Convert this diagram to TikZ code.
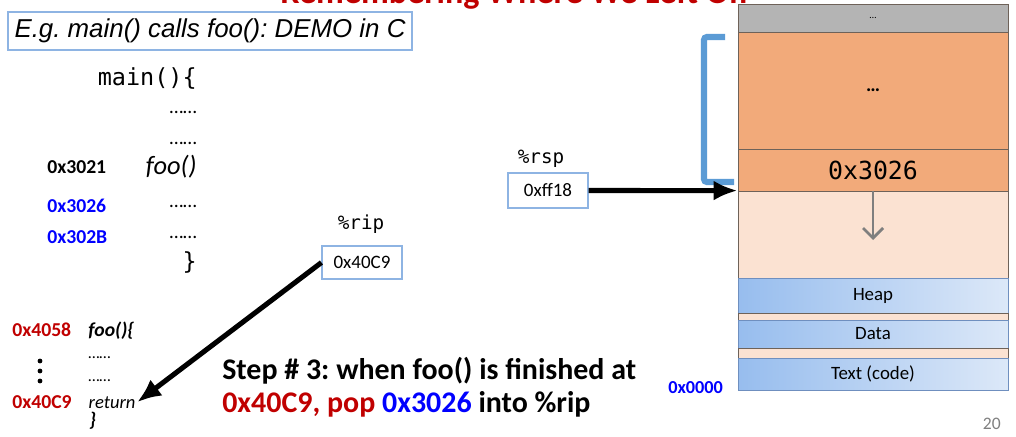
\documentclass[tikz,border=0pt]{standalone}
\usepackage{fontspec}
\setmainfont{Carlito}
\setmonofont{DejaVu Sans Mono}
\newfontfamily\arialfont{Liberation Sans}
\usetikzlibrary{arrows.meta}
\frenchspacing
\definecolor{darkred}{HTML}{C00000}
\definecolor{addrblue}{HTML}{0000FF}
\definecolor{boxblue}{HTML}{8EB4E3}
\definecolor{bracketblue}{HTML}{5B9BD5}
\definecolor{topgray}{HTML}{B4B4B4}
\definecolor{frameorange}{HTML}{F2AA7A}
\definecolor{freepeach}{HTML}{FBE2D2}
\definecolor{cellline}{HTML}{6E6259}
\definecolor{segline}{HTML}{6F8FBF}
\definecolor{segdark}{HTML}{97BDEE}
\definecolor{seglight}{HTML}{DCE8F8}
\definecolor{pagegray}{HTML}{7F7F7F}

\begin{document}
\begin{tikzpicture}[x=0.25mm, y=-0.25mm]

\tikzstyle{hexaddr}=[anchor=base west, inner sep=0pt, font=\fontsize{14}{16}\selectfont\bfseries]
\tikzstyle{fillerdots}=[anchor=base east, inner sep=0pt, font=\fontsize{14}{16}\selectfont]
\tikzstyle{regname}=[anchor=base, inner sep=0pt, font=\fontsize{13.7}{16}\selectfont\ttfamily]
\tikzstyle{regbox}=[draw=boxblue, line width=0.8pt, minimum width=20mm, inner sep=0pt, font=\fontsize{13.5}{16}\selectfont]
\tikzstyle{stackcell}=[draw=cellline, line width=0.6pt, minimum width=67.5mm, inner sep=0pt]
\tikzstyle{segcell}=[stackcell, draw=segline, left color=segdark, right color=seglight, font=\fontsize{13.4}{16}\selectfont]
\tikzstyle{connect}=[arrows={-{Latex[length=6mm, width=5mm]}}, line width=3.6pt]
\tikzstyle{growarrow}=[arrows={-{Straight Barb[length=2.5mm, width=5mm]}}, line width=2pt, draw=pagegray]

\useasboundingbox (0,0) rectangle (1016,436);

% slide heading, cut off at the top
\node[anchor=base west, inner sep=0pt, text=darkred, font=\fontsize{24.3}{28}\selectfont\bfseries] (heading) at (280,3) {Remembering Where We Left Off};

\node[draw=boxblue, line width=0.8pt, minimum width=101mm, minimum height=9.5mm, inner sep=0pt, font=\fontsize{18.4}{22}\selectfont\arialfont\itshape] (demo) at (210,31) {E.g. main() calls foo(): DEMO in C};

% main
\node[anchor=base east, inner sep=0pt, font=\fontsize{16.7}{20}\selectfont\ttfamily] (mainhead) at (197,85) {main()\{};
\node[fillerdots] (mdots1) at (197,113) {……};
\node[fillerdots] (mdots2) at (197,144) {……};
\node[anchor=base east, inner sep=0pt, font=\fontsize{18.8}{22}\selectfont\itshape] (call) at (197,174) {foo()};
\node[fillerdots] (mdots3) at (197,207) {……};
\node[fillerdots] (mdots4) at (197,238) {……};
\node[anchor=base east, inner sep=0pt, font=\fontsize{16.7}{20}\selectfont\ttfamily] (mainend) at (197,269) {\}};

\node[hexaddr] (a3021) at (47,173) {0x3021};
\node[hexaddr, text=addrblue] (a3026) at (47,212) {0x3026};
\node[hexaddr, text=addrblue] (a302b) at (47,243) {0x302B};

% foo
\node[hexaddr, text=darkred] (a4058) at (12,336) {0x4058};
\node[hexaddr, font=\fontsize{14}{16}\selectfont\bfseries\itshape] (foohead) at (88,336) {foo()\{};
\node[fillerdots, anchor=base west, font=\fontsize{11.5}{14}\selectfont] (fdots1) at (88,358) {……};
\node[fillerdots, anchor=base west, font=\fontsize{11.5}{14}\selectfont] (fdots2) at (88,381) {……};
\fill (40,361) circle (0.6mm);
\fill (40,371) circle (0.6mm);
\fill (40,381) circle (0.6mm);
\node[hexaddr, text=darkred] (a40c9) at (12,408) {0x40C9};
\node[anchor=base west, inner sep=1pt, font=\fontsize{13.2}{16}\selectfont\itshape] (rtn) at (87,408) {return};
\node[anchor=base west, inner sep=0pt, font=\fontsize{14}{16}\selectfont\bfseries\itshape] (fooend) at (89,426) {\}};

% registers
\node[regname] (ripname) at (361,229) {\%rip};
\node[regbox, minimum height=8.25mm] (ripbox) at (362,262.5) {0x40C9};
\node[regname] (rspname) at (541,163) {\%rsp};
\node[regbox, minimum height=8.75mm] (rspbox) at (548,190.5) {0xff18};

% stack
\node[stackcell, fill=topgray, minimum height=7mm, font=\fontsize{7}{8}\selectfont] (top) at (873,18) {…};
\node[stackcell, fill=frameorange, minimum height=29.25mm, font=\fontsize{14}{16}\selectfont\bfseries] (frame) at (873,90.5) {…};
\node[stackcell, fill=frameorange, minimum height=10.5mm, font=\fontsize{17.7}{20}\selectfont\ttfamily] (retaddr) at (873,170) {0x3026};
\node[stackcell, fill=freepeach, minimum height=21.75mm] (free) at (873,234.5) {};
\node[segcell, minimum height=8.75mm] (heap) at (873,295.5) {Heap};
\node[stackcell, fill=freepeach, minimum height=1.75mm] (gapa) at (873,316.5) {};
\node[segcell, minimum height=7mm] (data) at (873,334) {Data};
\node[stackcell, fill=freepeach, minimum height=2.5mm] (gapb) at (873,353) {};
\node[segcell, minimum height=8mm] (code) at (873,374) {Text (code)};

\node[hexaddr, text=addrblue, font=\fontsize{13}{16}\selectfont\bfseries] (a0000) at (668,393) {0x0000};

\coordinate (growend) at (873,240);
\draw[growarrow] (free.north) -- (growend);

\draw[bracketblue, line width=4.3pt, rounded corners=2pt] (725,37) -- (704,37) -- (704,182) -- (734,182);

\path (ripbox.west) [connect] edge (rtn.east);
\path (rspbox.east) [connect] edge (free.north west);

\node[anchor=base west, inner sep=0pt, font=\fontsize{21.3}{24}\selectfont\bfseries] (step) at (222,379) {Step \# 3: when foo() is finished at};
\node[anchor=base west, inner sep=0pt, font=\fontsize{21.3}{24}\selectfont\bfseries] (stepb) at (222,412) {\textcolor{darkred}{0x40C9, pop} \textcolor{addrblue}{0x3026} into \%rip};

\node[anchor=base east, inner sep=0pt, text=pagegray, font=\fontsize{12.5}{15}\selectfont] (pageno) at (1001,429) {20};

\end{tikzpicture}
\end{document}
